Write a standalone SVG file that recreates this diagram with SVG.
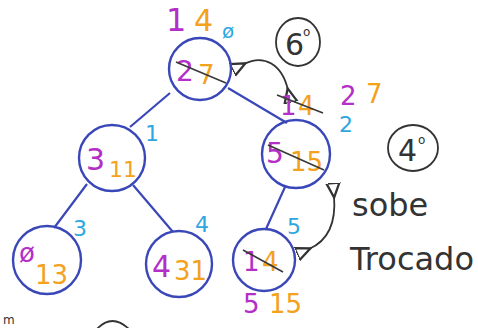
<svg xmlns="http://www.w3.org/2000/svg" width="478" height="328" viewBox="0 0 478 328">
<style>
.node{fill:none;stroke:#3a47b8;stroke-width:2.4}
.edge{stroke:#3a47b8;stroke-width:2.2;fill:none}
text{font-family:"DejaVu Sans","Liberation Sans",sans-serif}
.p{fill:#b42fc8;font-size:28px}
.o{fill:#f4a11e;font-size:24px}
.c{fill:#2ea6e0;font-size:22px}
.k{fill:#333;font-size:26px}
.strike{stroke:#3a3a3a;stroke-width:1.7;fill:none}
.ann{fill:none;stroke:#333;stroke-width:1.8}
</style>
<defs>
<marker id="ah" viewBox="0 0 10 10" refX="2" refY="5" markerWidth="9" markerHeight="9" orient="auto-start-reverse">
<path d="M10,1 L1,5 L10,9 Z" fill="none" stroke="#333" stroke-width="1.4"/>
</marker>
</defs>
<g id="connectors">
<line class="edge" x1="170" y1="93" x2="130" y2="127"/>
<line class="edge" x1="228" y1="88" x2="287" y2="123"/>
<line class="edge" x1="87" y1="184" x2="54" y2="228"/>
<line class="edge" x1="133" y1="185" x2="173" y2="232"/>
<line class="edge" x1="285" y1="187" x2="266" y2="229"/>
<path class="ann" d="M244,64 C264,54 282,64 288,90" marker-start="url(#ah)" marker-end="url(#ah)"/>
<path class="ann" d="M334,196 C336,220 330,240 309,249" marker-start="url(#ah)" marker-end="url(#ah)"/>
</g>
<g id="n-root">
<circle class="node" cx="200" cy="69" r="31"/>
<text class="p" x="176" y="81">2</text>
<text class="o" x="198" y="84" style="font-size:26px">7</text>
<line class="strike" x1="176" y1="62" x2="226" y2="83"/>
<text class="p" x="166" y="31" style="font-size:32px">1</text>
<text class="o" x="194" y="31" style="font-size:30px">4</text>
<text class="c" x="222" y="38" style="font-size:20px">ø</text>
</g>
<g id="n-left">
<circle class="node" cx="112" cy="158" r="33"/>
<text class="p" x="86" y="170" style="font-size:30px">3</text>
<text class="o" x="109" y="177" style="font-size:22px">11</text>
<text class="c" x="145" y="141">1</text>
</g>
<g id="n-right">
<circle class="node" cx="296" cy="154" r="34"/>
<text class="p" x="266" y="163">5</text>
<text class="o" x="290" y="171" style="font-size:26px">15</text>
<line class="strike" x1="268" y1="145" x2="324" y2="170"/>
<text class="p" x="280" y="115" style="font-size:26px">1</text>
<text class="o" x="298" y="115" style="font-size:26px">4</text>
<line class="strike" x1="277" y1="95" x2="323" y2="113"/>
<text class="p" x="340" y="105" style="font-size:26px">2</text>
<text class="o" x="366" y="103" style="font-size:26px">7</text>
<text class="c" x="339" y="132">2</text>
</g>
<g id="n-ll">
<circle class="node" cx="47" cy="260" r="34"/>
<text class="p" x="19" y="262" style="font-size:26px">ø</text>
<text class="o" x="35" y="284" style="font-size:26px">13</text>
<text class="c" x="73" y="236">3</text>
</g>
<g id="n-lr">
<circle class="node" cx="179" cy="264" r="33"/>
<text class="p" x="152" y="277" style="font-size:30px">4</text>
<text class="o" x="174" y="280" style="font-size:26px">31</text>
<text class="c" x="195" y="232">4</text>
</g>
<g id="n-rl">
<circle class="node" cx="264" cy="260" r="31"/>
<text class="p" x="243" y="271" style="font-size:26px">1</text>
<text class="o" x="262" y="271" style="font-size:26px">4</text>
<line class="strike" x1="243" y1="250" x2="283" y2="272"/>
<text class="c" x="287" y="234">5</text>
<text class="p" x="243" y="313" style="font-size:26px">5</text>
<text class="o" x="269" y="313" style="font-size:26px">15</text>
</g>
<g id="notes">
<ellipse class="ann" cx="298" cy="42" rx="22" ry="24"/>
<text class="k" x="285" y="55" style="font-size:30px">6</text>
<text class="k" x="303" y="36" style="font-size:12px">o</text>
<ellipse class="ann" cx="413" cy="148" rx="25" ry="23"/>
<text class="k" x="398" y="161" style="font-size:30px">4</text>
<text class="k" x="418" y="144" style="font-size:12px">o</text>
<text class="k" x="352" y="216" style="font-size:32px">sobe</text>
<text class="k" x="350" y="270" style="font-size:32px">Trocado</text>
<text class="k" x="3" y="324" style="font-size:12px">m</text>
<path class="ann" d="M96,330 Q112,312 130,330"/>
</g>
</svg>
